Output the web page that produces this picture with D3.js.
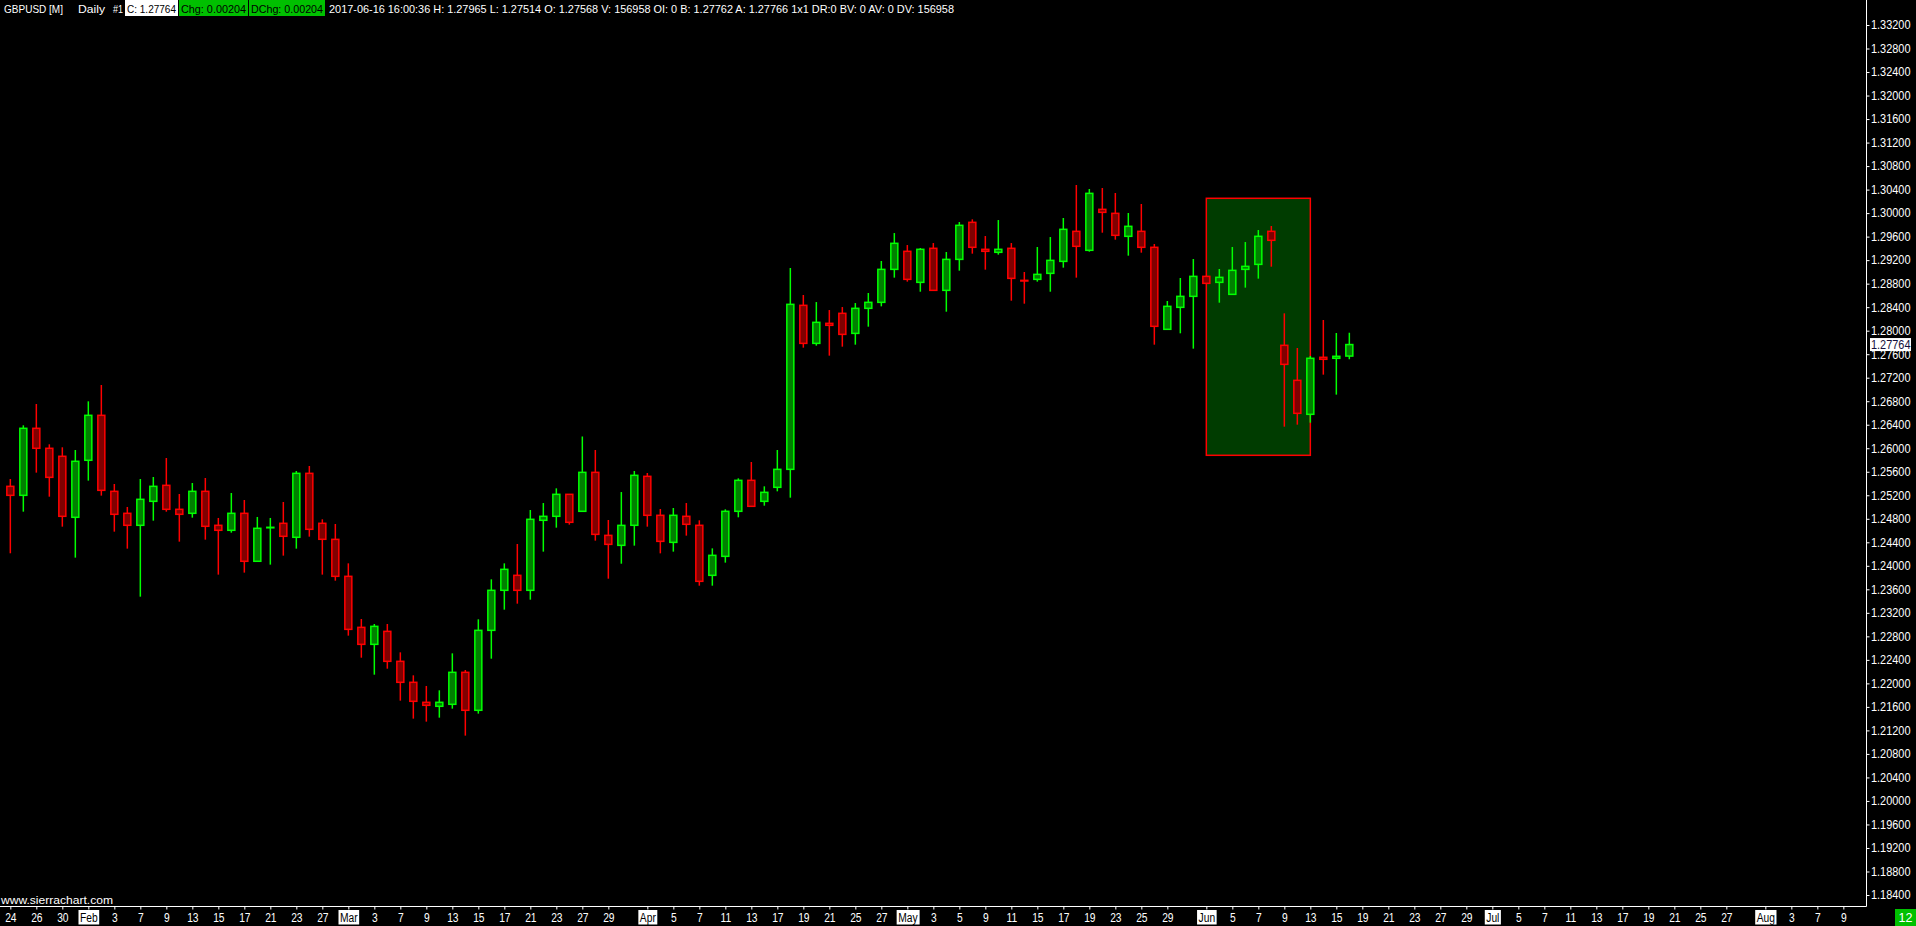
<!DOCTYPE html>
<html><head><meta charset="utf-8">
<script src="https://cdn.jsdelivr.net/npm/d3@7"></script>
<style>html,body{margin:0;padding:0;background:#000;overflow:hidden}</style>
</head><body>
<svg id="c" width="1916" height="926" style="display:block;background:#000"></svg>
<script>
// ---------- DATA ----------
const dates = [
"2017-01-24","2017-01-25","2017-01-26","2017-01-27","2017-01-30","2017-01-31",
"2017-02-01","2017-02-02","2017-02-03","2017-02-06","2017-02-07","2017-02-08","2017-02-09","2017-02-10","2017-02-13","2017-02-14","2017-02-15","2017-02-16","2017-02-17","2017-02-20","2017-02-21","2017-02-22","2017-02-23","2017-02-24","2017-02-27","2017-02-28",
"2017-03-01","2017-03-02","2017-03-03","2017-03-06","2017-03-07","2017-03-08","2017-03-09","2017-03-10","2017-03-13","2017-03-14","2017-03-15","2017-03-16","2017-03-17","2017-03-20","2017-03-21","2017-03-22","2017-03-23","2017-03-24","2017-03-27","2017-03-28","2017-03-29","2017-03-30","2017-03-31",
"2017-04-03","2017-04-04","2017-04-05","2017-04-06","2017-04-07","2017-04-10","2017-04-11","2017-04-12","2017-04-13","2017-04-14","2017-04-17","2017-04-18","2017-04-19","2017-04-20","2017-04-21","2017-04-24","2017-04-25","2017-04-26","2017-04-27","2017-04-28",
"2017-05-01","2017-05-02","2017-05-03","2017-05-04","2017-05-05","2017-05-08","2017-05-09","2017-05-10","2017-05-11","2017-05-12","2017-05-15","2017-05-16","2017-05-17","2017-05-18","2017-05-19","2017-05-22","2017-05-23","2017-05-24","2017-05-25","2017-05-26","2017-05-29","2017-05-30","2017-05-31",
"2017-06-01","2017-06-02","2017-06-05","2017-06-06","2017-06-07","2017-06-08","2017-06-09","2017-06-12","2017-06-13","2017-06-14","2017-06-15","2017-06-16"];

const open = [
1.25352,1.25199,1.26339,1.25999,1.25863,1.24825,
1.25795,1.26560,1.25267,1.24893,1.24689,1.25097,1.25369,1.24961,1.24893,1.25267,1.24689,1.24604,1.24893,1.24077,1.24649,1.24723,1.24485,1.25573,1.24723,1.24450,
1.23821,1.22953,1.22664,1.22885,1.22375,1.22018,1.21678,1.21610,1.21644,1.22188,1.21542,1.22902,1.23583,1.23838,1.23583,1.24774,1.24842,1.25216,1.24927,1.25590,1.24518,1.24348,1.24689,
1.25522,1.24859,1.24399,1.24842,1.24689,1.23838,1.24161,1.24927,1.25454,1.25097,1.25335,1.25641,1.28431,1.27784,1.28125,1.28295,1.27954,1.28380,1.28482,1.29043,
1.29350,1.28822,1.29401,1.28686,1.29213,1.29843,1.29384,1.29333,1.29401,1.28856,1.28873,1.28975,1.29179,1.29690,1.29367,1.30064,1.29996,1.29605,1.29690,1.29418,1.28023,1.28397,1.28584,
1.28924,1.28822,1.28618,1.29043,1.29128,1.29690,1.27751,1.27155,1.26577,1.27547,1.27530,1.27568];

const high = [
1.25477,1.26390,1.26753,1.26067,1.26016,1.25970,
1.26798,1.27076,1.25392,1.25001,1.25477,1.25511,1.25834,1.25222,1.25409,1.25494,1.24814,1.25239,1.25120,1.24831,1.24814,1.25086,1.25613,1.25698,1.24791,1.24711,
1.24042,1.23095,1.23010,1.23010,1.22528,1.22137,1.21956,1.21882,1.22511,1.22228,1.23090,1.23770,1.24042,1.24371,1.24949,1.25068,1.25318,1.25216,1.26200,1.25970,1.24779,1.25255,1.25613,
1.25579,1.24966,1.24983,1.25068,1.24774,1.24297,1.24961,1.25488,1.25766,1.25352,1.25970,1.29066,1.28607,1.28487,1.28351,1.28402,1.28470,1.28641,1.29185,1.29661,
1.29457,1.29406,1.29491,1.29338,1.29848,1.29894,1.29610,1.29882,1.29491,1.28998,1.29423,1.29593,1.29917,1.30478,1.30410,1.30427,1.30342,1.30002,1.30155,1.29474,1.28505,1.28896,1.29219,
1.28935,1.29049,1.29423,1.29508,1.29712,1.29781,1.28295,1.27705,1.27569,1.28182,1.27960,1.27965];

const low = [
1.24213,1.24921,1.25585,1.25176,1.24666,1.24139,
1.25449,1.25194,1.24581,1.24292,1.23475,1.24768,1.24921,1.24411,1.24819,1.24445,1.23850,1.24564,1.23884,1.24077,1.24020,1.24173,1.24292,1.24496,1.23850,1.23747,
1.22812,1.22437,1.22148,1.22250,1.21706,1.21400,1.21349,1.21417,1.21570,1.21111,1.21485,1.22420,1.23254,1.23356,1.23424,1.24241,1.24649,1.24700,1.24927,1.24428,1.23781,1.24036,1.24343,
1.24666,1.24212,1.24241,1.24513,1.23662,1.23662,1.24054,1.24825,1.25012,1.25023,1.25267,1.25159,1.27711,1.27745,1.27575,1.27728,1.27762,1.28068,1.28414,1.28902,
1.28834,1.28663,1.28680,1.28323,1.29021,1.29310,1.29038,1.29293,1.28510,1.28459,1.28834,1.28663,1.29072,1.28902,1.29344,1.29667,1.29548,1.29276,1.29327,1.27762,1.28023,1.27955,1.27694,
1.28800,1.28476,1.28618,1.28732,1.28885,1.29089,1.26367,1.26401,1.26435,1.27252,1.26912,1.27514];

const close = [
1.25199,1.26339,1.25999,1.25505,1.24842,1.25778,
1.26560,1.25284,1.24876,1.24689,1.25131,1.25352,1.24961,1.24876,1.25267,1.24672,1.24604,1.24893,1.24077,1.24638,1.24655,1.24502,1.25573,1.24621,1.24451,1.23821,
1.22919,1.22664,1.22970,1.22375,1.22018,1.21695,1.21627,1.21678,1.22188,1.21542,1.22902,1.23583,1.23940,1.23583,1.24791,1.24842,1.25216,1.24740,1.25590,1.24535,1.24365,1.24688,1.25539,
1.24859,1.24416,1.24859,1.24706,1.23736,1.24178,1.24927,1.25454,1.25012,1.25250,1.25641,1.28448,1.27784,1.28142,1.28091,1.27937,1.28380,1.28482,1.29043,1.29486,
1.28873,1.29384,1.28686,1.29213,1.29792,1.29418,1.29350,1.29384,1.28890,1.28845,1.28958,1.29196,1.29724,1.29435,1.30336,1.30013,1.29622,1.29775,1.29418,1.28074,1.28414,1.28584,1.28924,
1.28805,1.28907,1.29026,1.29094,1.29605,1.29537,1.27427,1.26594,1.27530,1.27513,1.27564,1.27764];

const priceTicks = [1.332,1.328,1.324,1.320,1.316,1.312,1.308,1.304,1.300,1.296,1.292,1.288,1.284,1.280,1.276,1.272,1.268,1.264,1.260,1.256,1.252,1.248,1.244,1.240,1.236,1.232,1.228,1.224,1.220,1.216,1.212,1.208,1.204,1.200,1.196,1.192,1.188,1.184];

const dateTickDays = ["2017-01-24","2017-01-26","2017-01-30","2017-02-01","2017-02-03","2017-02-07","2017-02-09","2017-02-13","2017-02-15","2017-02-17","2017-02-21","2017-02-23","2017-02-27","2017-03-01","2017-03-03","2017-03-07","2017-03-09","2017-03-13","2017-03-15","2017-03-17","2017-03-21","2017-03-23","2017-03-27","2017-03-29","2017-04-03","2017-04-05","2017-04-07","2017-04-11","2017-04-13","2017-04-17","2017-04-19","2017-04-21","2017-04-25","2017-04-27","2017-05-01","2017-05-03","2017-05-05","2017-05-09","2017-05-11","2017-05-15","2017-05-17","2017-05-19","2017-05-23","2017-05-25","2017-05-29","2017-06-01","2017-06-05","2017-06-07","2017-06-09","2017-06-13","2017-06-15","2017-06-19","2017-06-21","2017-06-23","2017-06-27","2017-06-29","2017-07-03","2017-07-05","2017-07-07","2017-07-11","2017-07-13","2017-07-17","2017-07-19","2017-07-21","2017-07-25","2017-07-27","2017-08-01","2017-08-03","2017-08-07","2017-08-09"];
const dateTickLabels = ["24","26","30","Feb","3","7","9","13","15","17","21","23","27","Mar","3","7","9","13","15","17","21","23","27","29","Apr","5","7","11","13","17","19","21","25","27","May","3","5","9","11","15","17","19","23","25","29","Jun","5","7","9","13","15","19","21","23","27","29","Jul","5","7","11","13","17","19","21","25","27","Aug","3","7","9"];
const monthNames = ["Feb","Mar","Apr","May","Jun","Jul","Aug"];

const boxStart = "2017-06-01", boxEnd = "2017-06-13";
const boxTop = 1.30252, boxBottom = 1.25880;
const lastPrice = 1.27764;

const headerTexts = ["GBPUSD [M]","Daily","#1","C: 1.27764","Chg: 0.00204","DChg: 0.00204",
  "2017-06-16 16:00:36 H: 1.27965 L: 1.27514 O: 1.27568 V: 156958 OI: 0 B: 1.27762 A: 1.27766 1x1 DR:0 BV: 0 AV: 0 DV: 156958"];
const watermark = "www.sierrachart.com";
const cornerLabel = "12";

// ---------- DRAW ----------
const FONT = "'Liberation Sans',Arial,'DejaVu Sans',sans-serif";
const svg = d3.select("#c");
const parse = d3.utcParse("%Y-%m-%d"), fmt = d3.utcFormat("%Y-%m-%d");
const allDays = d3.utcDay.range(parse("2017-01-24"), parse("2017-08-16"))
  .filter(d => d.getUTCDay() % 6 !== 0).map(fmt);

const X0 = 10.33, STEP = 13;
const x = d3.scalePoint().domain(allDays).range([X0, X0 + STEP * (allDays.length - 1)]);
const y = d3.scaleLinear().domain([1.184, 1.332]).range([895, 25]);

const AXIS_X = 1866.5, AXIS_Y = 906.5;

function squeeze(sel, factor) {
  sel.each(function() {
    const n = this, w = n.getComputedTextLength();
    d3.select(n).attr("textLength", w * factor).attr("lengthAdjust", "spacingAndGlyphs");
  });
}

// highlight box
svg.append("rect")
  .attr("x", x(boxStart)).attr("y", y(boxTop))
  .attr("width", x(boxEnd) - x(boxStart)).attr("height", y(boxBottom) - y(boxTop))
  .attr("fill", "#003c00").attr("stroke", "#ff0000").attr("stroke-width", 1.5);

// candles
const candles = dates.map((d, i) => ({d, o: open[i], h: high[i], l: low[i], c: close[i]}));
const cg = svg.append("g").selectAll("g").data(candles).join("g");
cg.append("line")
  .attr("x1", d => x(d.d)).attr("x2", d => x(d.d))
  .attr("y1", d => y(d.h)).attr("y2", d => y(d.l))
  .attr("stroke", d => d.c >= d.o ? "#00ff00" : "#ff0000").attr("stroke-width", 1.5);
cg.append("rect")
  .attr("x", d => x(d.d) - 3.5).attr("width", 7)
  .attr("y", d => y(Math.max(d.o, d.c)))
  .attr("height", d => Math.max(0.5, Math.abs(y(d.o) - y(d.c))))
  .attr("fill", d => d.c >= d.o ? "#008000" : "#800000")
  .attr("stroke", d => d.c >= d.o ? "#00ff00" : "#ff0000").attr("stroke-width", 1.5);

// right price axis
const ya = svg.append("g").attr("transform", `translate(${AXIS_X},0)`)
  .call(d3.axisRight(y).tickValues(priceTicks).tickFormat(d3.format(".5f")).tickSize(3).tickSizeOuter(0).tickPadding(1.5));
ya.select(".domain").remove();
ya.selectAll("line").attr("stroke", "#fff");
ya.selectAll("text").attr("fill", "#fff").style("font-family", FONT).style("font-size", "12px")
  .attr("textLength", 39.5).attr("lengthAdjust", "spacingAndGlyphs");
svg.append("line").attr("x1", AXIS_X).attr("x2", AXIS_X).attr("y1", 0).attr("y2", AXIS_Y)
  .attr("stroke", "#fff").attr("stroke-width", 1);

// last price marker
const lp = svg.append("g");
lp.append("rect").attr("x", AXIS_X + 3.5).attr("y", y(lastPrice) - 6.5).attr("width", 41).attr("height", 13).attr("fill", "#fff");
lp.append("text").attr("x", AXIS_X + 4.5).attr("y", y(lastPrice)).attr("dy", "0.35em")
  .attr("fill", "#14103c").style("font-family", FONT).style("font-size", "12px")
  .attr("textLength", 39.5).attr("lengthAdjust", "spacingAndGlyphs")
  .text(d3.format(".5f")(lastPrice));

// bottom date axis
const xa = svg.append("g").attr("transform", `translate(0,${AXIS_Y})`)
  .call(d3.axisBottom(x).tickValues(dateTickDays).tickFormat((d, i) => dateTickLabels[i]).tickSize(3).tickSizeOuter(0).tickPadding(4));
xa.select(".domain").remove();
xa.selectAll("line").attr("stroke", "#fff");
xa.selectAll("text").attr("fill", "#fff").style("font-family", FONT).style("font-size", "12.5px");
squeeze(xa.selectAll("text"), 0.82);
xa.selectAll(".tick").each(function(d, i) {
  const lbl = dateTickLabels[i];
  if (monthNames.includes(lbl)) {
    const t = d3.select(this).select("text");
    const bb = t.node().getBBox();
    d3.select(this).insert("rect", "text")
      .attr("x", bb.x - 1.5).attr("y", 3.5).attr("width", bb.width + 3).attr("height", 14.5).attr("fill", "#fff");
    t.attr("fill", "#000");
  }
});
svg.append("line").attr("x1", 0).attr("x2", AXIS_X).attr("y1", AXIS_Y).attr("y2", AXIS_Y)
  .attr("stroke", "#fff").attr("stroke-width", 1);

// corner label
svg.append("rect").attr("x", 1895).attr("y", 909).attr("width", 21).attr("height", 17).attr("fill", "#00c000");
svg.append("text").attr("x", 1905.5).attr("y", 922).attr("text-anchor", "middle").attr("fill", "#fff")
  .style("font-family", FONT).style("font-size", "12.5px").text(cornerLabel);

// watermark
svg.append("text").attr("x", 1).attr("y", 904).attr("fill", "#fff")
  .attr("textLength", 112).attr("lengthAdjust", "spacingAndGlyphs")
  .style("font-family", FONT).style("font-size", "11.5px").text(watermark);

// header
const hdr = [
  {t: headerTexts[0], x: 4, w: 59, bg: null},
  {t: headerTexts[1], x: 78, w: 27, bg: null},
  {t: headerTexts[2], x: 113, w: 10, bg: null},
  {t: headerTexts[3], x: 127, w: 49, bg: "#ffffff", bx: 125, bw: 53, fc: "#000"},
  {t: headerTexts[4], x: 181, w: 65, bg: "#00c000", bx: 179, bw: 69, fc: "#000"},
  {t: headerTexts[5], x: 251, w: 72, bg: "#00c000", bx: 249, bw: 76, fc: "#000"},
  {t: headerTexts[6], x: 329, w: 625, bg: null}
];
hdr.forEach(h => {
  if (h.bg) svg.append("rect").attr("x", h.bx).attr("y", 0).attr("width", h.bw).attr("height", 16).attr("fill", h.bg);
  svg.append("text").attr("x", h.x).attr("y", 12.5).attr("fill", h.fc || "#fff")
    .attr("textLength", h.w).attr("lengthAdjust", "spacingAndGlyphs")
    .style("font-family", FONT).style("font-size", "11px").text(h.t);
});
</script>
</body></html>
